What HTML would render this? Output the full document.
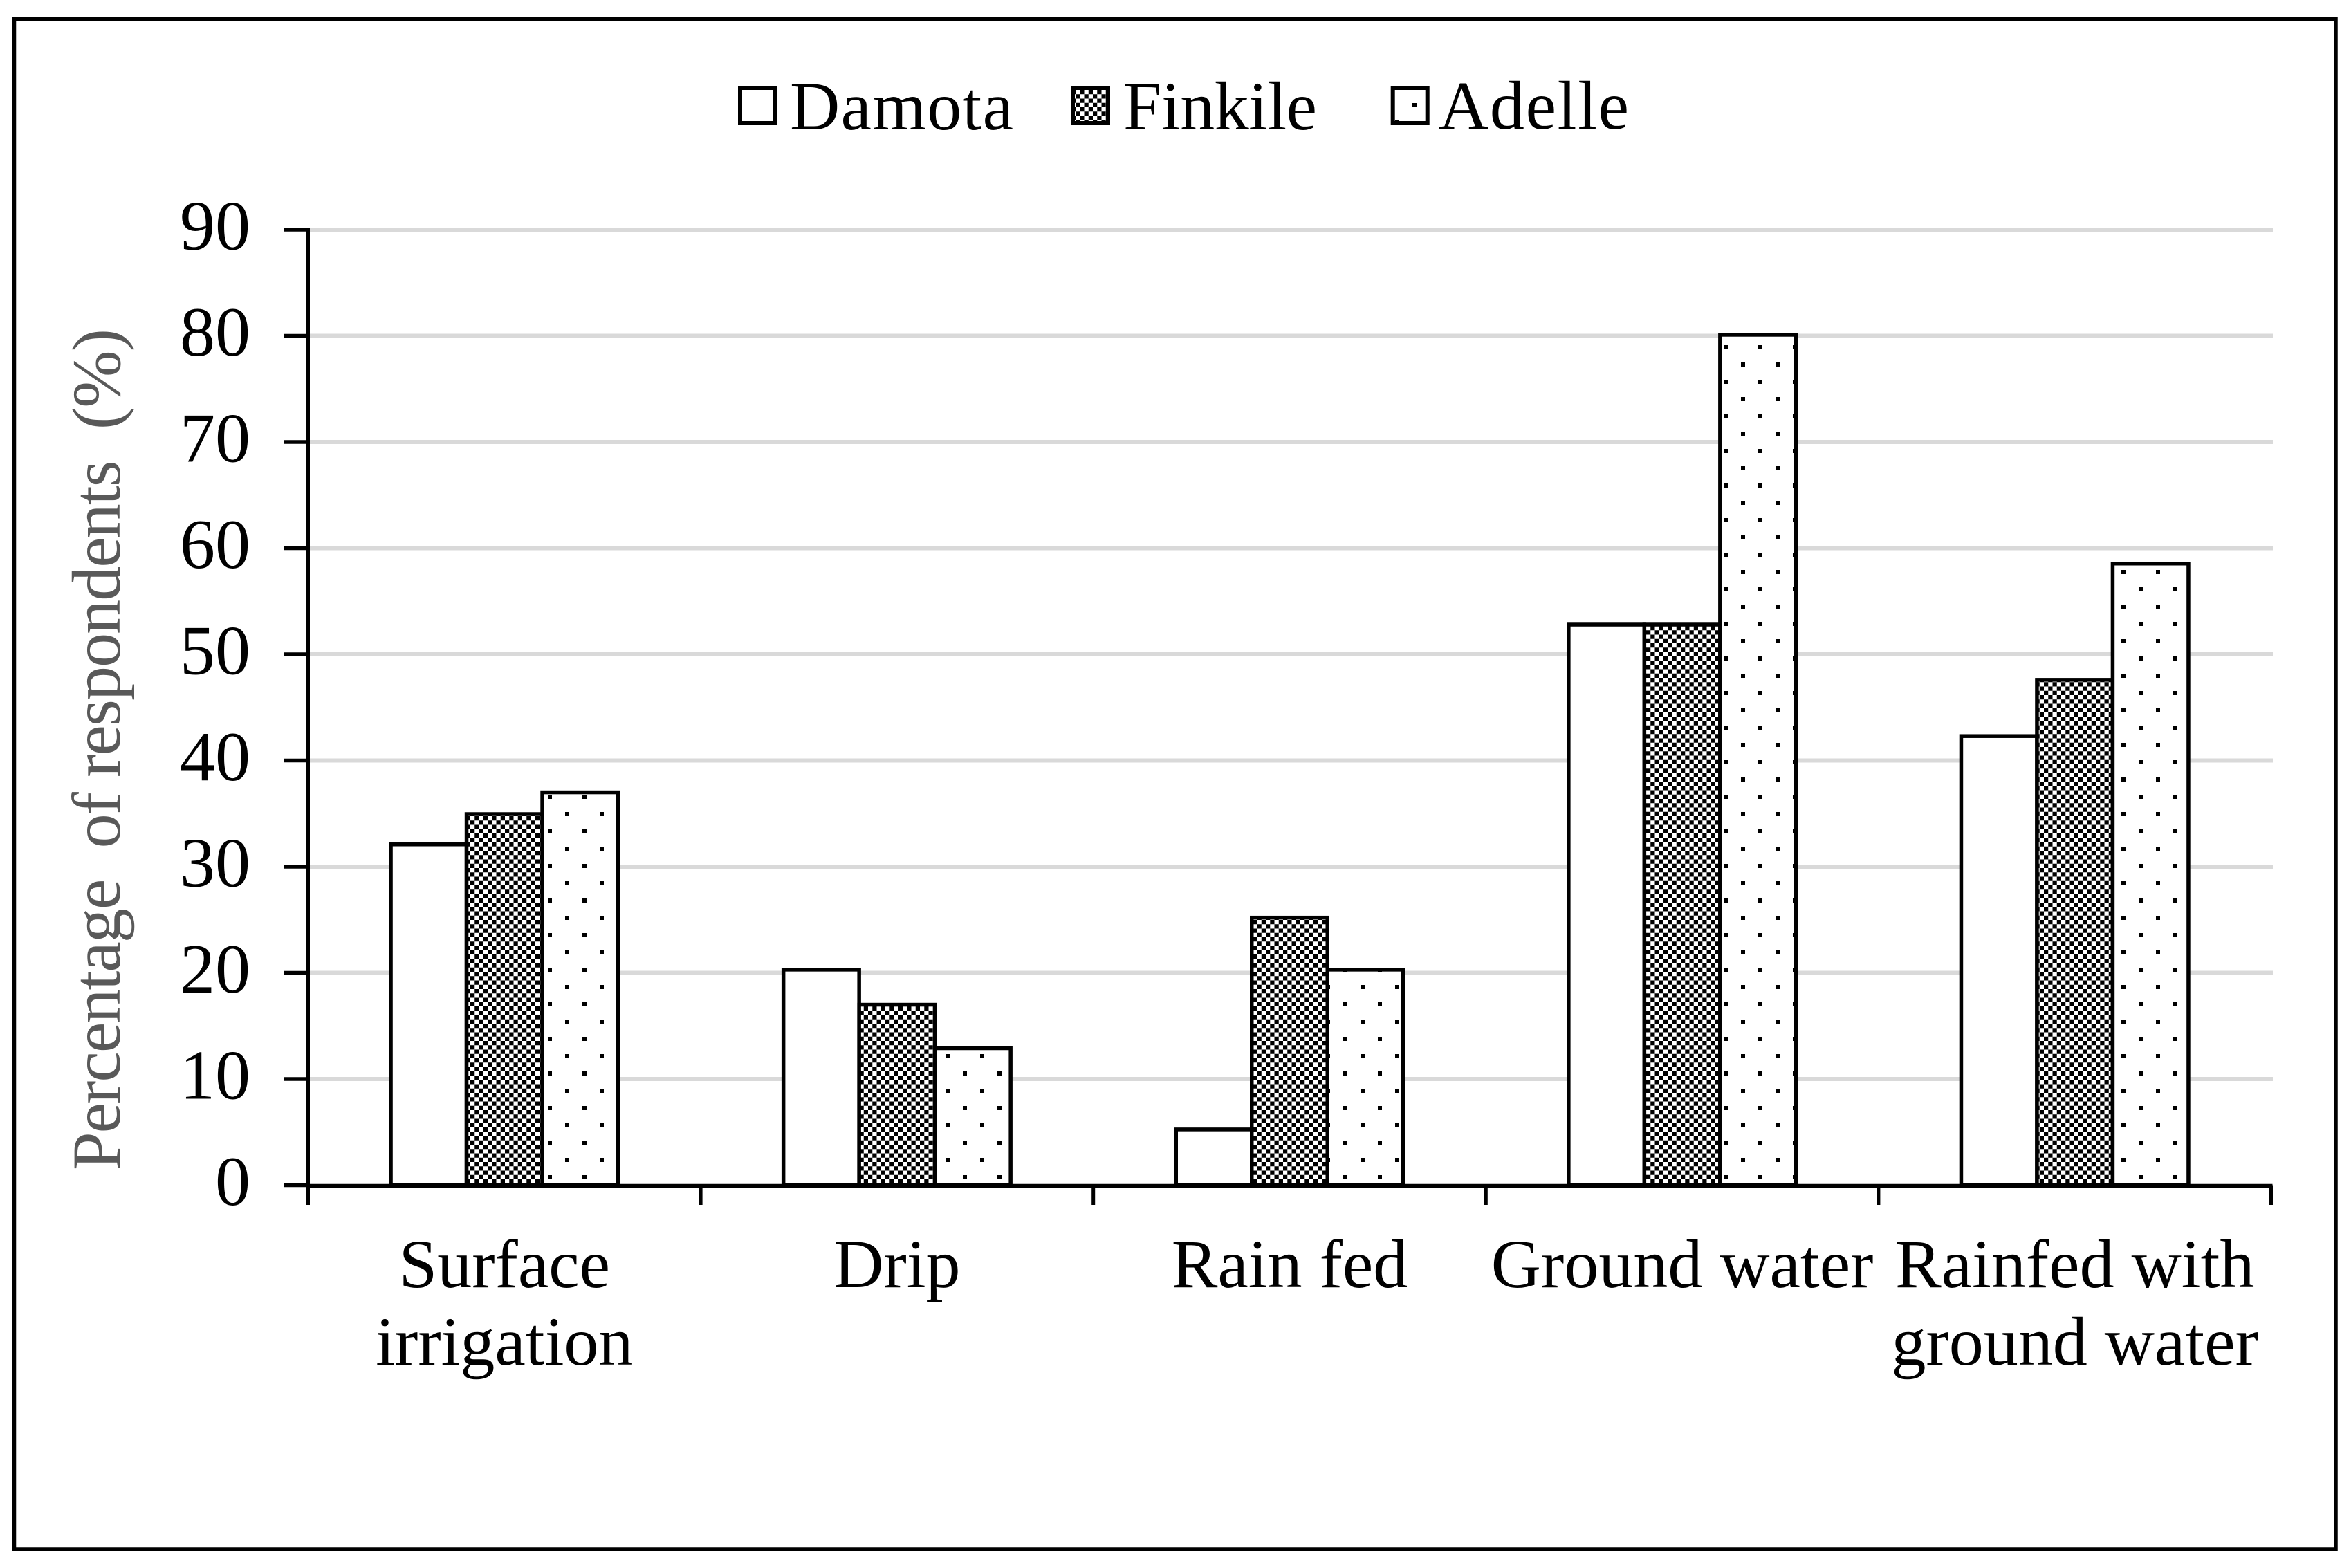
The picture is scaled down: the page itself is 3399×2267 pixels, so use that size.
<!DOCTYPE html>
<html lang="en">
<head>
<meta charset="utf-8">
<title>Percentage of respondents by water source</title>
<style>
  html, body { margin: 0; padding: 0; background: #fff; }
  svg { display: block; }
  text { font-family: "Liberation Serif", "Times New Roman", serif; fill: #000; }
</style>
</head>
<body>
<svg id="chart" xmlns="http://www.w3.org/2000/svg" width="3399" height="2267" viewBox="0 0 3399 2267">
  <defs>
    <pattern id="checker" patternUnits="userSpaceOnUse" x="5" y="5" width="12.5" height="12.5">
      <rect width="12.5" height="12.5" fill="#000"/>
      <rect width="6.25" height="6.25" fill="#fff"/>
      <rect x="6.25" y="6.25" width="6.25" height="6.25" fill="#fff"/>
    </pattern>
    <pattern id="dots" patternUnits="userSpaceOnUse" x="17" y="-1" width="50" height="50">
      <rect width="50" height="50" fill="#fff"/>
      <rect x="25" y="0" width="6" height="6" fill="#000"/>
      <rect x="0" y="25" width="6" height="6" fill="#000"/>
    </pattern>
  </defs>
  <rect width="3399" height="2267" fill="#fff"/>
  <rect x="20.5" y="27.5" width="3356.5" height="2212.5" fill="#fff" stroke="#000" stroke-width="5.5"/>

  <g id="grid"></g>
  <g id="bars"></g>
  <g id="axes"></g>
  <g id="ylabels"></g>
  <g id="xlabels"></g>

  <text transform="translate(173,1692) rotate(-90)" font-size="100" fill="#595959" style="fill:#595959;white-space:pre" xml:space="preserve" textLength="1217" lengthAdjust="spacing">Percentage  of respondents  (%)</text>

  <g>
    <g>
      <rect x="1070" y="127" width="50" height="51" fill="#fff" stroke="#000" stroke-width="6"/>
      <text x="1142" y="187" font-size="100" textLength="323" lengthAdjust="spacing">Damota</text>
    </g>
    <g>
      <rect x="1551" y="127" width="51" height="51" fill="url(#checker)" stroke="#000" stroke-width="6"/>
      <text x="1624" y="187" font-size="100" textLength="280" lengthAdjust="spacing">Finkile</text>
    </g>
    <g>
      <rect x="2013.7" y="127" width="50" height="51" fill="url(#dots)" stroke="#000" stroke-width="6"/>
      <text x="2080" y="186" font-size="100" textLength="275" lengthAdjust="spacing">Adelle</text>
    </g>
  </g>
</svg>

<script>
const categories = [["Surface", "irrigation"], ["Drip"], ["Rain fed"], ["Ground water"], ["Rainfed with", "ground water"]];
const damota = [32.1, 20.3, 5.25, 52.8, 42.3];
const finkile = [34.95, 17.0, 25.2, 52.8, 47.6];
const adelle = [37.0, 12.9, 20.3, 80.1, 58.55];
const yTicks = [0, 10, 20, 30, 40, 50, 60, 70, 80, 90];

const NS = "http://www.w3.org/2000/svg";
const plotLeft = 445.5;
const plotBottom = 1713.5;
const pxPerUnit = 15.35;
const bandWidth = 567.6;
const barWidth = 109.5;
const gridRight = 3286;

function yScale(v) { return plotBottom - v * pxPerUnit; }
function xBandStart(i) { return plotLeft + i * bandWidth; }
function xBandCentre(i) { return xBandStart(i) + bandWidth / 2; }

function make(tag, parentId, attrs) {
  const el = document.createElementNS(NS, tag);
  for (const k in attrs) el.setAttribute(k, attrs[k]);
  document.getElementById(parentId).appendChild(el);
  return el;
}

/* gridlines, y ticks, y labels */
yTicks.forEach(function (t) {
  if (t !== 0) {
    const g = make("line", "grid", { x1: plotLeft, x2: gridRight, y1: yScale(t), y2: yScale(t), stroke: "#d9d9d9", "stroke-width": 6 });
    
    
  }
  const tick = make("line", "axes", { x1: 411, x2: plotLeft, y1: yScale(t), y2: yScale(t), stroke: "#000", "stroke-width": 5.5 });
  
  
  const label = make("text", "ylabels", { x: 362, y: yScale(t) + 28.5, "font-size": 102, "text-anchor": "end" });
  label.textContent = String(t);
  
  
});

/* bars */
const seriesNames = ["damota", "finkile", "adelle"];
const seriesValues = [damota, finkile, adelle];
const seriesFills = ["#fff", "url(#checker)", "url(#dots)"];
categories.forEach(function (cat, i) {
  seriesValues.forEach(function (vals, s) {
    const top = yScale(vals[i]);
    const bar = make("rect", "bars", {
      x: xBandCentre(i) - 1.5 * barWidth + s * barWidth,
      y: top,
      width: barWidth,
      height: plotBottom - top,
      fill: seriesFills[s],
      stroke: "#000",
      "stroke-width": 5.5
    });
    
    
  });
});

/* axis lines */
const yAxis = make("line", "axes", { x1: plotLeft, x2: plotLeft, y1: yScale(90) - 3, y2: 1742, stroke: "#000", "stroke-width": 5 });


const xAxis = make("line", "axes", { x1: plotLeft, x2: xBandStart(categories.length) + 2, y1: plotBottom + 1, y2: plotBottom + 1, stroke: "#000", "stroke-width": 5.5 });



/* x ticks */
for (let i = 0; i <= categories.length; i++) {
  const xt = make("line", "axes", { x1: xBandStart(i), x2: xBandStart(i), y1: plotBottom, y2: 1742, stroke: "#000", "stroke-width": 5 });
  
  
}

/* x labels */
categories.forEach(function (lines, i) {
  lines.forEach(function (line, j) {
    const xl = make("text", "xlabels", { x: xBandCentre(i), y: 1861 + j * 112, "font-size": 100, "text-anchor": "middle" });
    xl.textContent = line;
    
    
  });
});
</script>
</body>
</html>
